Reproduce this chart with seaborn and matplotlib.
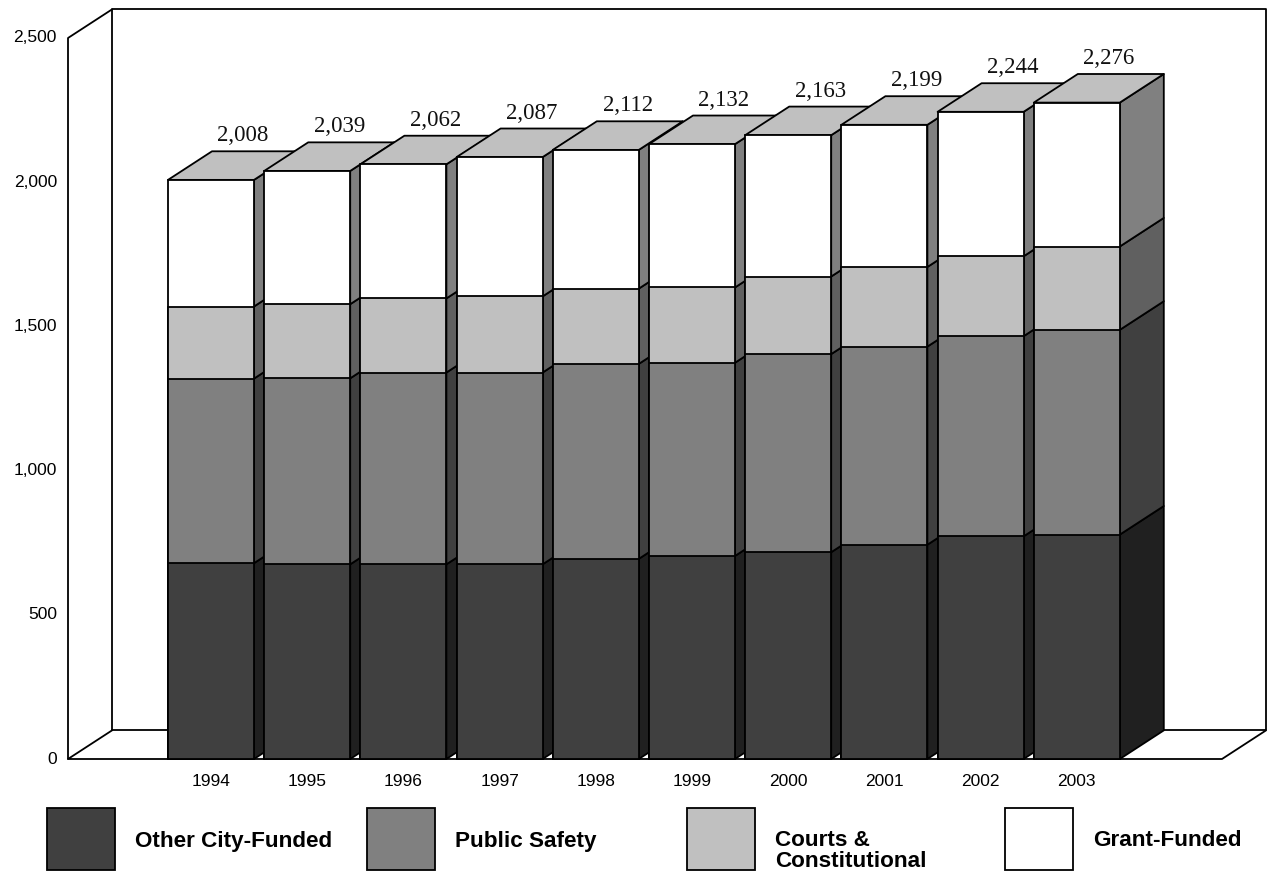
import matplotlib
matplotlib.use("Agg")
import matplotlib.pyplot as plt
from matplotlib.patches import Polygon, Rectangle
import numpy as np
import pandas as pd
import seaborn as sns

# ---- data -------------------------------------------------------------
years = ["1994", "1995", "1996", "1997", "1998", "1999", "2000", "2001", "2002", "2003"]
other_city_funded = [679, 675, 675, 675, 694, 704, 717, 743, 772, 778]
public_safety = [640, 645, 665, 665, 676, 670, 687, 687, 694, 710]
courts_constitutional = [250, 257, 257, 264, 261, 261, 269, 276, 277, 289]
grant_funded = [439, 462, 465, 483, 481, 497, 490, 493, 501, 499]

series_names = ["Other City-Funded", "Public Safety", "Courts &\nConstitutional", "Grant-Funded"]
y_ticks = [0, 500, 1000, 1500, 2000, 2500]

# ---- styling ----------------------------------------------------------
sns.set_theme(style="white")
plt.rcParams["font.family"] = ["Liberation Sans", "DejaVu Sans"]

front_colors = ["#404040", "#808080", "#c0c0c0", "#ffffff"]
side_colors = ["#202020", "#404040", "#606060", "#808080"]
top_color = "#c0c0c0"
LW = 1.3

# ---- canvas geometry (pixels) ------------------------------------------
W, H = 1270, 873
PX_X = 96.2        # pixels per category step
X_ORIGIN = 211     # pixel column of the first category centre
PX_V = 0.2884      # pixels per unit of value
V_ORIGIN = 759     # pixel row of the value zero
BAR_W = 86 / PX_X
DX = 44 / PX_X     # depth offset, category units
DY = 28.6 / PX_V   # depth offset, value units
WALL_L = (68 - X_ORIGIN) / PX_X
WALL_R = (1222 - X_ORIGIN) / PX_X
V_MAX = y_ticks[-1]

fig = plt.figure(figsize=(W / 100, H / 100), dpi=100)
ax = fig.add_axes([0, 0, 1, 1])

df = pd.DataFrame({
    "year": years,
    "s0": other_city_funded,
    "s1": public_safety,
    "s2": courts_constitutional,
    "s3": grant_funded,
})
stack = np.cumsum(df[["s0", "s1", "s2", "s3"]].to_numpy(), axis=1)
for k in range(4):
    df[f"cum{k}"] = stack[:, k]
totals = stack[:, -1]

# ---- box walls ---------------------------------------------------------
wall_kw = dict(color="black", lw=LW, zorder=1, solid_capstyle="round")
ax.plot([WALL_L + DX, WALL_R + DX, WALL_R + DX, WALL_L + DX, WALL_L + DX],
        [DY, DY, V_MAX + DY, V_MAX + DY, DY], **wall_kw)
ax.plot([WALL_L, WALL_L, WALL_L + DX], [0, V_MAX, V_MAX + DY], **wall_kw)
ax.plot([WALL_L + DX, WALL_L, WALL_R, WALL_R + DX], [DY, 0, 0, DY], **wall_kw)

# ---- side and top faces, painted left to right -------------------------
for i in range(len(years)):
    xr = i + BAR_W / 2
    xl = i - BAR_W / 2
    lo = 0
    for k in range(4):
        hi = stack[i, k]
        ax.add_patch(Polygon([(xr, lo), (xr + DX, lo + DY), (xr + DX, hi + DY), (xr, hi)],
                             closed=True, facecolor=side_colors[k], edgecolor="black",
                             lw=LW, zorder=2, joinstyle="round"))
        lo = hi
    tot = totals[i]
    ax.add_patch(Polygon([(xl, tot), (xr, tot), (xr + DX, tot + DY), (xl + DX, tot + DY)],
                         closed=True, facecolor=top_color, edgecolor="black",
                         lw=LW, zorder=2, joinstyle="round"))

# ---- front faces: cumulative bars, tallest first ----------------------
for k in reversed(range(4)):
    sns.barplot(data=df, x="year", y=f"cum{k}", color=front_colors[k], saturation=1,
                width=BAR_W, errorbar=None, edgecolor="black", linewidth=LW,
                ax=ax, zorder=3)

# ---- value labels on top ----------------------------------------------
for i, tot in enumerate(totals):
    ax.text(i + DX / 2 + 10 / PX_X, tot + DY + 10 / PX_V, f"{tot:,}",
            ha="center", va="baseline", fontsize=16.5,
            family=["Liberation Serif", "DejaVu Serif"], color="#111111", zorder=5)

# ---- axis labels --------------------------------------------------------
for v in y_ticks:
    ax.text(WALL_L - 11 / PX_X, v, f"{v:,}", ha="right", va="center",
            fontsize=12.5, color="black")
for i, yr in enumerate(years):
    ax.text(i, -22.7 / PX_V, yr, ha="center", va="center", fontsize=12.5, color="black")

ax.set_xlim(-X_ORIGIN / PX_X, (W - X_ORIGIN) / PX_X)
ax.set_ylim(-(H - V_ORIGIN) / PX_V, V_ORIGIN / PX_V)
ax.set_axis_off()

# ---- legend -----------------------------------------------------------
legend_boxes = [47, 367, 687, 1005]
for k, x0 in enumerate(legend_boxes):
    fig.add_artist(Rectangle((x0 / W, 1 - 870 / H), 68 / W, 62 / H,
                             transform=fig.transFigure, facecolor=front_colors[k],
                             edgecolor="black", lw=LW))
    multi = "\n" in series_names[k]
    fig.text((x0 + 88) / W, 1 - (851 if multi else 841) / H, series_names[k],
             ha="left", va="center", fontsize=16.2, fontweight="bold",
             color="black", linespacing=0.98)

fig.savefig("out.png", dpi=100)
